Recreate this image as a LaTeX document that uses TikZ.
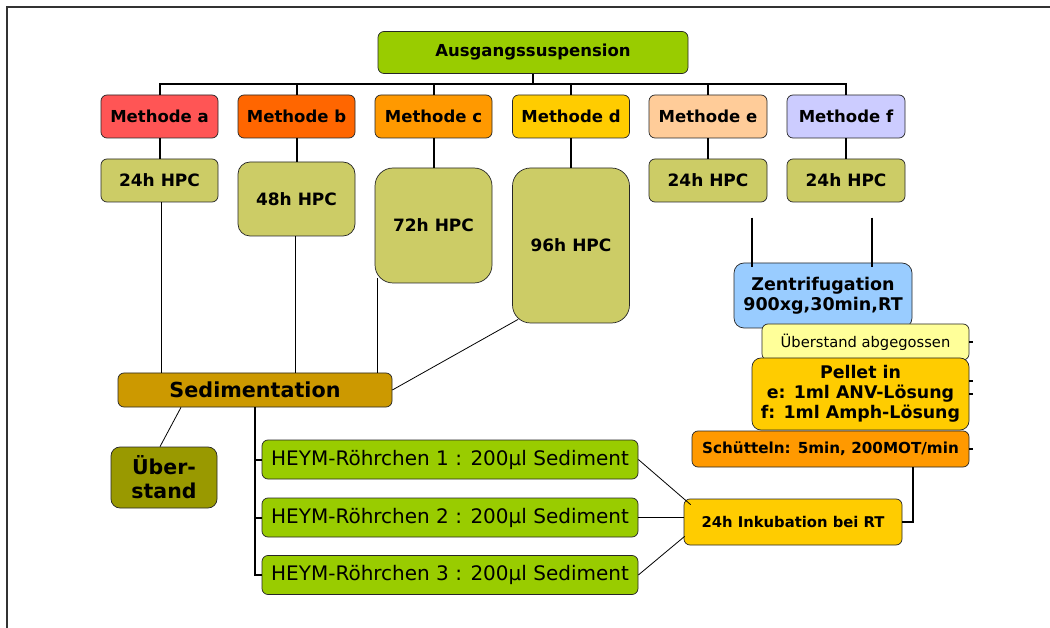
\documentclass[tikz,border=0pt]{standalone}
\usepackage{fontspec}
\setmainfont{DejaVu Sans}
\usetikzlibrary{calc}

\definecolor{gruen}{HTML}{99CC00}
\definecolor{ma}{HTML}{FF5555}
\definecolor{mb}{HTML}{FF6600}
\definecolor{mc}{HTML}{FF9900}
\definecolor{md}{HTML}{FFCC00}
\definecolor{me}{HTML}{FFCC99}
\definecolor{mf}{HTML}{CCCCFF}
\definecolor{hpc}{HTML}{CCCC66}
\definecolor{zentr}{HTML}{99CCFF}
\definecolor{hellgelb}{HTML}{FFFF99}
\definecolor{sedi}{HTML}{CC9900}
\definecolor{oliv}{HTML}{999900}

\tikzset{
  box/.style={draw=black!85, line width=0.7pt, rounded corners=6pt, align=center, inner sep=2pt},
  methode/.style={box, minimum width=117pt, minimum height=43pt, font=\fontsize{16.5}{20}\selectfont\bfseries},
  hpcbox/.style={box, fill=hpc, minimum width=117pt, font=\fontsize{17}{20}\selectfont\bfseries},
  heym/.style={box, fill=gruen, minimum width=376pt, minimum height=39pt, font=\fontsize{20}{24}\selectfont},
  link/.style={line width=2pt},
  thinlink/.style={line width=0.8pt},
}

\begin{document}
\begin{tikzpicture}[x=1pt, y=-1pt]
  \useasboundingbox (0,0) rectangle (1050,628);
  % frame
  \draw[line width=2pt, black!80] (7,628) -- (7,7) -- (1050,7);

  % Ausgangssuspension
  \node[box, fill=gruen, minimum width=310pt, minimum height=42pt, font=\fontsize{16.5}{20}\selectfont\bfseries] (root) at (533,52.5) {Ausgangssuspension};

  % Methoden
  \node[methode, fill=ma] (ma) at (159.5,116.5) {Methode a};
  \node[methode, fill=mb] (mb) at (296.5,116.5) {Methode b};
  \node[methode, fill=mc] (mc) at (433.5,116.5) {Methode c};
  \node[methode, fill=md] (md) at (571,116.5) {Methode d};
  \node[methode, fill=me, minimum width=118pt] (me) at (708,116.5) {Methode e};
  \node[methode, fill=mf, minimum width=118pt] (mf) at (846,116.5) {Methode f};

  \draw[link] (root.south) -- ++(0,10.5) coordinate (bus);
  \foreach \m in {ma,mb,mc,md,me,mf}
    \draw[link] (bus) -| (\m.north);

  % HPC
  \node[hpcbox, minimum height=43pt] (ha) at (159.5,180.5) {24h HPC};
  \node[hpcbox, minimum height=74pt, rounded corners=12pt] (hb) at (296.5,199) {48h HPC};
  \node[hpcbox, minimum height=115pt, rounded corners=18pt] (hc) at (433.5,225.5) {72h HPC};
  \node[hpcbox, minimum height=155pt, rounded corners=18pt] (hd) at (571,245.5) {96h HPC};
  \node[hpcbox, minimum height=43pt, minimum width=118pt] (he) at (708,180.5) {24h HPC};
  \node[hpcbox, minimum height=43pt, minimum width=118pt] (hf) at (846,180.5) {24h HPC};

  \draw[link] (ma) -- (ha);
  \draw[link] (mb) -- (hb);
  \draw[link] (mc) -- (hc);
  \draw[link] (md) -- (hd);
  \draw[link] (me) -- (he);
  \draw[link] (mf) -- (hf);

  % Sedimentation
  \node[box, fill=sedi, minimum width=274pt, minimum height=34pt, font=\fontsize{20.7}{24}\selectfont\bfseries] (sed) at (255,390) {Sedimentation};
  \node[box, fill=oliv, minimum width=106pt, minimum height=61pt, rounded corners=9pt, font=\fontsize{20.5}{24}\selectfont\bfseries] (ueb) at (164,477.5) {Über-\\stand};

  \draw[thinlink] ([xshift=1.5pt]ha.south) -- ([xshift=1.5pt]ha.south |- sed.north);
  \draw[thinlink] ([xshift=-1pt]hb.south) -- ([xshift=-1pt]hb.south |- sed.north);
  \draw[thinlink] ([xshift=2.5pt,yshift=5pt]hc.south west) -- ([xshift=2.5pt]hc.south west |- sed.north);
  \draw[thinlink] ([xshift=6pt,yshift=4pt]hd.south west) -- (sed.east);
  \draw[thinlink] ([xshift=-74pt]sed.south) -- ([xshift=-4pt]ueb.north);

  % HEYM-Roehrchen
  \node[heym] (h1) at (450,459.5) {HEYM-Röhrchen 1 : 200µl Sediment};
  \node[heym] (h2) at (450,517.5) {HEYM-Röhrchen 2 : 200µl Sediment};
  \node[heym] (h3) at (450,575) {HEYM-Röhrchen 3 : 200µl Sediment};
  \foreach \h in {h1,h2,h3}
    \draw[link] (sed.south) |- (\h.west);

  % Zentrifugation
  \node[box, fill=zentr, minimum width=178pt, minimum height=65pt, rounded corners=10pt, font=\fontsize{17.5}{20}\selectfont\bfseries] (zen) at (823,295.5) {Zentrifugation\\900xg,30min,RT};
  \coordinate (ze) at ($(zen.north)+(-71.3,-45)$);
  \coordinate (zf) at ($(zen.north)+(48.7,-45)$);
  \draw[link] (ze) -- ([xshift=-71.3pt,yshift=-4pt]zen.north);
  \draw[link] (zf) -- ([xshift=48.7pt,yshift=-4pt]zen.north);

  \node[box, fill=hellgelb, minimum width=207pt, minimum height=36pt, font=\fontsize{14.7}{18}\selectfont] (ueba) at (865.5,342) {Überstand abgegossen};
  \node[box, fill=md, minimum width=217pt, minimum height=72pt, rounded corners=9pt, font=\fontsize{17.4}{20}\selectfont\bfseries] (pel) at (860.5,394) {Pellet in\\e: 1ml ANV-Lösung\\f: 1ml Amph-Lösung};
  \node[box, fill=mc, minimum width=277pt, minimum height=36pt, font=\fontsize{15.2}{18}\selectfont\bfseries] (schu) at (830.5,449) {Schütteln: 5min, 200MOT/min};

  \draw[link] (ueba.east) -- ++(4,0);
  \draw[link] ([yshift=13pt]pel.east) -- ++(4,0);
  \draw[thinlink, line width=1.4pt] (pel.east) -- ++(4,0);
  \draw[link] (schu.east) -- ++(4,0);

  % Inkubation
  \node[box, fill=md, minimum width=218pt, minimum height=46pt, font=\fontsize{14.8}{18}\selectfont\bfseries] (inku) at (793,522) {24h Inkubation bei RT};
  \draw[link] ([xshift=82.5pt]schu.south) |- (inku.east);

  \draw[thinlink] (h1.east) -- ([xshift=7pt,yshift=-6pt]inku.north west);
  \draw[thinlink] (h2.east) -- (h2.east -| inku.west);
  \draw[thinlink] (h3.east) -- ([xshift=1pt,yshift=9pt]inku.south west);
\end{tikzpicture}
\end{document}
